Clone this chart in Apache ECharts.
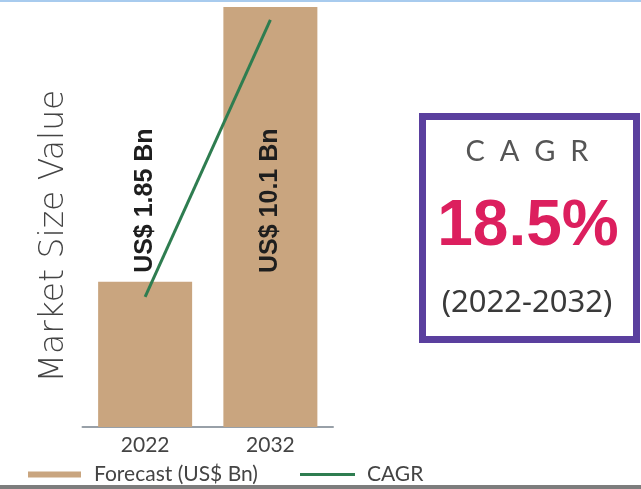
<!DOCTYPE html>
<html>
<head>
<meta charset="utf-8">
<script src="https://cdn.jsdelivr.net/npm/echarts@6/dist/echarts.min.js"></script>
<style>html,body{margin:0;padding:0;background:#fff}#c{width:641px;height:489px}</style>
</head>
<body>
<div id="c"></div>
<script>
// Data (the infographic bars are not drawn to scale)
const categories = ['2022', '2032'];
const barHeights = [3.49, 10.1];          // drawn bar heights
const barLabels = ['US$ 1.85 Bn', 'US$ 10.1 Bn'];
const cagrLine = [3.13, 9.79];            // green CAGR line
const seriesNames = ['Forecast (US$ Bn)', 'CAGR'];
const yAxisTitle = 'Market Size Value';
const cagrTitle = 'C  A  G  R';
const cagrValue = '18.5%';
const cagrPeriod = '(2022-2032)';

const chart = echarts.init(document.getElementById('c'), null, {renderer: 'canvas'});
const TXT = 'Lato, "Noto Sans", sans-serif';

chart.setOption({
  animation: false,
  grid: {left: 82.5, right: 308, top: 7, bottom: 62, containLabel: false},
  legend: [
    {
      left: 23, top: 459, itemWidth: 53, itemHeight: 6,
      textStyle: {fontFamily: TXT, fontSize: 21, color: '#444', padding: [0, 0, 0, 8]},
      data: [{name: seriesNames[0], icon: 'rect'}]
    },
    {
      left: 295, top: 459, itemWidth: 55, itemHeight: 3,
      textStyle: {fontFamily: TXT, fontSize: 21, color: '#444', padding: [0, 0, 0, 7]},
      data: [{name: seriesNames[1], icon: 'rect'}]
    }
  ],
  xAxis: {
    type: 'category', data: categories,
    axisLine: {lineStyle: {color: '#98a0a8', width: 2}},
    axisTick: {show: false},
    axisLabel: {fontFamily: TXT, fontSize: 21, color: '#444', margin: 8}
  },
  yAxis: {
    type: 'value', min: 0, max: 10.1,
    name: yAxisTitle, nameLocation: 'middle', nameRotate: 90, nameGap: 12,
    nameTextStyle: {fontFamily: '"DejaVu Sans", sans-serif', fontWeight: 200, fontSize: 33, color: '#444', padding: [0, 38, 0, 0]},
    axisLine: {show: false}, axisTick: {show: false}, axisLabel: {show: false}, splitLine: {show: false}
  },
  series: [
    {
      name: seriesNames[0], type: 'bar', barWidth: 94,
      itemStyle: {color: '#c9a57f'},
      data: barHeights.map((v, i) => ({
        value: v,
        label: {
          show: true, formatter: barLabels[i], rotate: 90,
          position: i === 0 ? 'top' : 'insideBottom',
          distance: i === 0 ? 9 : 154,
          align: 'left', verticalAlign: 'middle',
          fontFamily: '"Liberation Sans", Arial, sans-serif', fontWeight: 'bold', fontSize: 25, color: '#1e1e1e'
        }
      }))
    },
    {
      name: seriesNames[1], type: 'line', data: cagrLine, symbol: 'none', z: 5,
      lineStyle: {color: '#2e7d50', width: 3}, itemStyle: {color: '#2e7d50'}
    }
  ],
  graphic: [
    {type: 'rect', shape: {x: 0, y: 0, width: 641, height: 2}, style: {fill: '#a8cbee'}, silent: true},
    {type: 'rect', shape: {x: 0, y: 485, width: 641, height: 4}, style: {fill: '#7d7d7d'}, silent: true},
    {type: 'rect', shape: {x: 422.5, y: 116.5, width: 214, height: 223}, style: {fill: '#fff', stroke: '#5a3f9e', lineWidth: 7}, silent: true},
    {type: 'text', x: 527, y: 152, style: {text: cagrTitle, align: 'center', verticalAlign: 'middle', fontFamily: TXT, fontSize: 29, fill: '#555'}},
    {type: 'text', x: 528, y: 227, style: {text: cagrValue, align: 'center', verticalAlign: 'middle', fontFamily: '"Liberation Sans", Arial, sans-serif', fontWeight: 'bold', fontSize: 64, fill: '#dc1f5e'}},
    {type: 'text', x: 527, y: 303, style: {text: cagrPeriod, align: 'center', verticalAlign: 'middle', fontFamily: '"Noto Sans", sans-serif', fontSize: 31, fill: '#3a3a3a'}}
  ]
});
</script>
</body>
</html>
